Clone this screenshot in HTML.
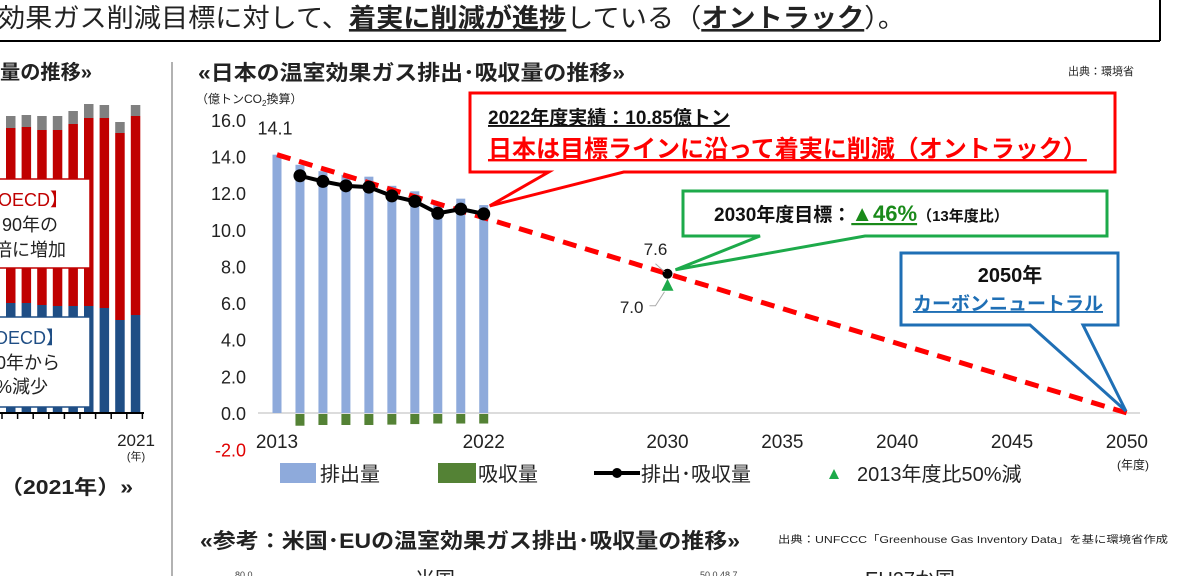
<!DOCTYPE html>
<html><head><meta charset="utf-8"><style>
html,body{margin:0;padding:0;background:#fff;}
svg{display:block;font-family:"Liberation Sans","Noto Sans CJK JP",sans-serif;}
</style></head><body>
<svg id="root" width="1185" height="576" viewBox="0 0 1185 576" xmlns="http://www.w3.org/2000/svg">
<g>
<line x1="0" y1="41" x2="1160" y2="41" stroke="#000" stroke-width="2"/>
<line x1="1160" y1="0" x2="1160" y2="41" stroke="#000" stroke-width="2"/>
<text x="-2" y="27" font-size="26" fill="#222" textLength="907" lengthAdjust="spacingAndGlyphs">効果ガス削減目標に対して、<tspan font-weight="bold" text-decoration="underline">着実に削減が進捗</tspan>している（<tspan font-weight="bold" text-decoration="underline">オントラック</tspan>）。</text>
</g>
<line x1="172" y1="62" x2="172" y2="576" stroke="#666" stroke-width="1"/>
<g id="leftchart">
<text x="0" y="79" font-size="20" font-weight="bold" fill="#222" textLength="92" lengthAdjust="spacingAndGlyphs">量の推移»</text>
<text x="0" y="494" font-size="20" font-weight="bold" fill="#222" textLength="133" lengthAdjust="spacingAndGlyphs">（2021年）»</text>
<text x="136" y="446" font-size="17" fill="#222" text-anchor="middle">2021</text>
<text x="136" y="460" font-size="11" fill="#222" text-anchor="middle">(年)</text>
</g>
<g id="main">
<text x="198" y="80" font-size="21" font-weight="bold" fill="#222" textLength="427" lengthAdjust="spacingAndGlyphs">«日本の温室効果ガス排出･吸収量の推移»</text>
<text x="1068" y="75" font-size="11" fill="#222">出典：環境省</text>
<text x="196" y="103" font-size="12" fill="#222">（億トンCO<tspan font-size="8" dy="3">2</tspan><tspan dy="-3">換算）</tspan></text>
</g>
<text x="200" y="548" font-size="21" font-weight="bold" fill="#222" textLength="540" lengthAdjust="spacingAndGlyphs">«参考：米国･EUの温室効果ガス排出･吸収量の推移»</text>
<text x="778" y="543" font-size="10" fill="#222" textLength="390" lengthAdjust="spacingAndGlyphs">出典：UNFCCC「Greenhouse Gas Inventory Data」を基に環境省作成</text>
<text x="415" y="586" font-size="20" fill="#222">米国</text>
<text x="865" y="586" font-size="20" fill="#222">EU27か国</text>
<text x="235" y="578" font-size="9" fill="#444">80.0</text>
<text x="700" y="578" font-size="9" fill="#444">50.0 48.7</text>
</svg>
<script>
// ---- left partial chart data ----
const leftBlue=[5.5,5.5,5.4,5.35,5.35,5.35,5.25,4.65,4.9];
const leftRed=[8.75,8.8,8.75,8.8,9.1,9.4,9.5,9.35,9.95];
const leftGray=[0.6,0.6,0.7,0.7,0.65,0.7,0.65,0.55,0.55];
// ---- main chart data ----
const years=[2013,2014,2015,2016,2017,2018,2019,2020,2021,2022];
const emissions=[14.1,13.55,13.2,13.0,12.9,12.4,12.1,11.5,11.7,11.35];
const absorption=[0,-0.64,-0.6,-0.6,-0.6,-0.58,-0.55,-0.52,-0.52,-0.52];
const netYears=[2014,2015,2016,2017,2018,2019,2020,2021,2022];
const netValues=[12.95,12.64,12.4,12.33,11.85,11.55,10.9,11.13,10.87];
const targetYears=[2013,2030,2050];
const targetValues=[14.1,7.6,0];
const target50Year=2030, target50Value=7.0;
const yTicks=[16,14,12,10,8,6,4,2,0,-2];
const xTickYears=[2013,2022,2030,2035,2040,2045,2050];

const NS='http://www.w3.org/2000/svg';
const root=document.getElementById('root');
function mk(tag,attrs,parent){const e=document.createElementNS(NS,tag);for(const k in attrs)e.setAttribute(k,attrs[k]);(parent||root).appendChild(e);return e;}

const L=document.getElementById('leftchart');
const lx=i=>6+i*15.6, ly=v=>413-v*20;
leftBlue.forEach((b,i)=>{
 const r=b+leftRed[i],g=r+leftGray[i];
 const e1=mk('rect',{x:lx(i),y:ly(b),width:9.5,height:413-ly(b),fill:'#1f4e85'},L);
 
 
 const e2=mk('rect',{x:lx(i),y:ly(r),width:9.5,height:ly(b)-ly(r),fill:'#c00000'},L);
 
 
 const e3=mk('rect',{x:lx(i),y:ly(g),width:9.5,height:ly(r)-ly(g),fill:'#808080'},L);
 
 
});
mk('line',{x1:0,y1:413,x2:144,y2:413,stroke:'#000','stroke-width':2},L);
for(let i=0;i<10;i++){mk('line',{x1:2+i*15.6,y1:413,x2:2+i*15.6,y2:419,stroke:'#000','stroke-width':1.5},L);}
const rb=mk('rect',{x:-2,y:179,width:92,height:89,fill:'#fff',stroke:'#c00000','stroke-width':1.5},L);


const bb=mk('rect',{x:-2,y:317,width:92,height:90,fill:'#fff',stroke:'#1f4e85','stroke-width':1.5},L);


[['OECD】',-2,206,'#c00000'],['90年の',2,231,'#222'],['倍に増加',-6,256,'#222'],['OECD】',-6,344,'#1f4e85'],['0年から',-4,369,'#222'],['%減少',-4,393,'#222']].forEach(a=>{
 const t=mk('text',{x:a[1],y:a[2],'font-size':18,fill:a[3]},L);t.textContent=a[0];
 
 
});

const M=document.getElementById('main');
const X=y=>277+(y-2013)*22.97;
const Y=v=>413-v*18.32;
mk('line',{x1:258,y1:Y(0),x2:1140,y2:Y(0),stroke:'#d0d0d0','stroke-width':1.5},M);
yTicks.forEach(v=>{
 const t=mk('text',{x:246,y:Y(v)+7,'font-size':18,'text-anchor':'end',fill:v<0?'#e00000':'#222'},M);
 t.textContent=v.toFixed(1);
 
 
});
xTickYears.forEach(yr=>{
 const t=mk('text',{x:X(yr),y:448,'font-size':19,'text-anchor':'middle',fill:'#222'},M);
 t.textContent=String(yr);
 
 
});
const xu=mk('text',{x:1133,y:469,'font-size':12,'text-anchor':'middle',fill:'#222'},M);xu.textContent='(年度)';


years.forEach((yr,i)=>{
 const b=mk('rect',{x:X(yr)-4.5,y:Y(emissions[i]),width:9,height:Y(0)-Y(emissions[i]),fill:'#8eaadb'},M);
 
 
 if(absorption[i]<0){
  const g=mk('rect',{x:X(yr)-4.5,y:Y(0)+1,width:9,height:Y(absorption[i])-Y(0),fill:'#548235'},M);
  
  
 }
});
const tl=mk('polyline',{points:targetYears.map((y,i)=>X(y)+','+Y(targetValues[i])).join(' '),fill:'none',stroke:'#ff0000','stroke-width':5,'stroke-dasharray':'14 9'},M);


const nl=mk('polyline',{points:netYears.map((y,i)=>X(y)+','+Y(netValues[i])).join(' '),fill:'none',stroke:'#000','stroke-width':4},M);


netYears.forEach((y,i)=>{
 const c=mk('circle',{cx:X(y),cy:Y(netValues[i]),r:6.5,fill:'#000'},M);
 
 
});
const lbl0=mk('text',{x:X(2013)-2,y:Y(targetValues[0])-20,'font-size':18,'text-anchor':'middle',fill:'#222'},M);lbl0.textContent=targetValues[0].toFixed(1);


const tx=X(target50Year);
const tri=mk('polygon',{points:`${tx-6},${Y(target50Value)+6} ${tx+6},${Y(target50Value)+6} ${tx},${Y(target50Value)-6}`,fill:'#1daa4a'},M);


const c30=mk('circle',{cx:tx,cy:Y(targetValues[1]),r:5,fill:'#000'},M);


mk('polyline',{points:`${tx-12},${Y(targetValues[1])-10} ${tx-3},${Y(targetValues[1])-2}`,fill:'none',stroke:'#aaa','stroke-width':1},M);
mk('polyline',{points:`${tx-18},${Y(target50Value)+21} ${tx-12},${Y(target50Value)+21} ${tx-3},${Y(target50Value)+7}`,fill:'none',stroke:'#aaa','stroke-width':1},M);
const l76=mk('text',{x:tx-12,y:Y(targetValues[1])-19,'font-size':17,'text-anchor':'middle',fill:'#222'},M);l76.textContent=targetValues[1].toFixed(1);


const l70=mk('text',{x:tx-24,y:Y(target50Value)+28,'font-size':17,'text-anchor':'end',fill:'#222'},M);l70.textContent=target50Value.toFixed(1);



function callout(name,pts,stroke,w){const p=mk('polygon',{points:pts,fill:'#fff',stroke:stroke,'stroke-width':w,'stroke-linejoin':'miter'},M);}
callout('callout-2022',`470,93 1115,93 1115,172 ${X(2022)+140},172 ${X(2022)+6},${Y(netValues[8])-8} ${X(2022)+65},172 470,172`,'#ff0000',3);
callout('callout-2030',`683,191 1107,191 1107,236 865,236 ${tx+8},${Y(targetValues[1])-4} 760,236 683,236`,'#1daa4a',3);
callout('callout-2050',`901,253 1118,253 1118,325 1083,325 ${X(2050)-1},${Y(0)-2} 1030,325 901,325`,'#1f6fb5',3);
const texts=[
 ['2022年度実績：10.85億トン',488,124,19,'bold','#111','underline','start'],
 ['日本は目標ラインに沿って着実に削減（オントラック）',488,157,24,'bold','#ff0000','underline','start'],
 ['2050年',1010,282,20,'bold','#111','none','middle'],
 ['カーボンニュートラル',1008,310,19,'bold','#1f6fb5','underline','middle']
];
texts.forEach(a=>{const t=mk('text',{x:a[1],y:a[2],'font-size':a[3],'font-weight':a[4],fill:a[5],'text-decoration':a[6],'text-anchor':a[7]},M);t.textContent=a[0];
 
 });
const g30=mk('text',{x:714,y:221,'font-size':19,'font-weight':'bold',fill:'#111'},M);
g30.innerHTML='2030年度目標：<tspan fill="#1a8a1a" font-size="22" text-decoration="underline">▲46%</tspan><tspan font-size="15">（13年度比）</tspan>';



const lg=mk('g',{},M);


mk('rect',{x:280,y:463,width:36,height:20,fill:'#8eaadb'},lg);
mk('rect',{x:438,y:463,width:38,height:20,fill:'#548235'},lg);
mk('line',{x1:594,y1:473,x2:640,y2:473,stroke:'#000','stroke-width':4},lg);
mk('circle',{cx:617,cy:473,r:5,fill:'#000'},lg);
mk('polygon',{points:'829,479 839,479 834,469',fill:'#1daa4a'},lg);
[['排出量',320],['吸収量',478],['排出･吸収量',641],['2013年度比50%減',857]].forEach(a=>{
 const t=mk('text',{x:a[1],y:481,'font-size':20,fill:'#222'},lg);t.textContent=a[0];
 
 
});
</script>
</body></html>
